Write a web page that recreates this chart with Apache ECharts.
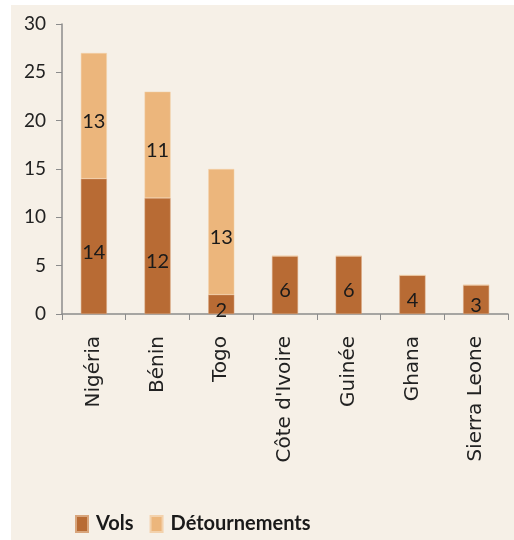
<!DOCTYPE html>
<html>
<head>
<meta charset="utf-8">
<script src="https://cdn.jsdelivr.net/npm/echarts@6/dist/echarts.min.js"></script>
<style>
  html, body { margin: 0; padding: 0; background: #ffffff; }
  #frame { position: absolute; left: 11px; top: 5px; width: 503px; height: 535px; background: #f6f0e7; }
  #chart { position: absolute; left: 0; top: 0; width: 514px; height: 540px; }
</style>
</head>
<body>
<div id="frame"></div>
<div id="chart"></div>
<script>
const countries = ['Nigéria', 'Bénin', 'Togo', "Côte d'Ivoire", 'Guinée', 'Ghana', 'Sierra Leone'];
const vols = [14, 12, 2, 6, 6, 4, 3];
const detournements = [13, 11, 13, 0, 0, 0, 0];
const yTicks = [0, 5, 10, 15, 20, 25, 30];

const chart = echarts.init(document.getElementById('chart'));

const valueLabel = {
  show: true,
  position: 'inside',
  offset: [0, 6],
  color: '#1a1a1a',
  fontFamily: 'Lato',
  fontSize: 20,
  formatter: (p) => (p.value ? String(p.value) : '')
};

chart.setOption({
  backgroundColor: 'transparent',
  animation: false,
  grid: { left: 62, right: 6, top: 24, bottom: 226 },
  legend: {
    left: 70,
    top: 509,
    itemWidth: 12,
    itemHeight: 16,
    itemGap: 16,
    icon: 'rect',
    textStyle: { color: '#1a1a1a', fontFamily: 'Lato', fontSize: 20, fontWeight: 'bold', padding: [0, 0, 0, 3] },
    data: ['Vols', 'Détournements']
  },
  xAxis: {
    type: 'category',
    data: countries,
    axisLine: { lineStyle: { color: '#8c8c8c', width: 1.5 } },
    axisTick: { show: true, length: 6, lineStyle: { color: '#8c8c8c' } },
    axisLabel: { rotate: 90, color: '#222', fontFamily: "'DejaVu Sans', sans-serif", fontSize: 20, margin: 22 }
  },
  yAxis: {
    type: 'value',
    min: yTicks[0],
    max: yTicks[yTicks.length - 1],
    interval: 5,
    splitLine: { show: false },
    axisLine: { show: true, lineStyle: { color: '#8c8c8c', width: 1.5 } },
    axisTick: { show: true, length: 6, lineStyle: { color: '#8c8c8c' } },
    axisLabel: { color: '#222', fontFamily: 'Lato', fontSize: 19, margin: 16 }
  },
  series: [
    {
      name: 'Vols',
      type: 'bar',
      stack: 'total',
      barWidth: 26,
      data: vols,
      itemStyle: { color: '#b86b34', borderColor: '#d8a57c', borderWidth: 0.5 },
      label: valueLabel
    },
    {
      name: 'Détournements',
      type: 'bar',
      stack: 'total',
      barWidth: 26,
      data: detournements,
      itemStyle: { color: '#ecb67c', borderColor: '#f3d2ad', borderWidth: 0.5 },
      label: valueLabel
    }
  ]
});
</script>
</body>
</html>
